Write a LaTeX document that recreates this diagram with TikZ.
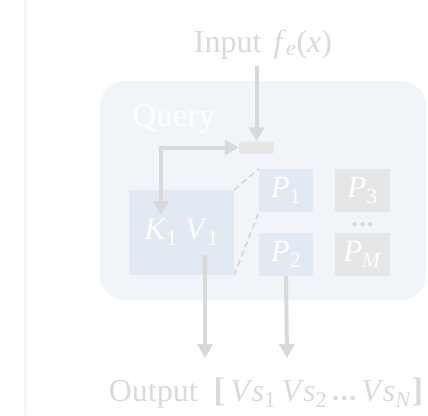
\documentclass[tikz,border=0pt]{standalone}
\usepackage{fontspec}
\setmainfont{Liberation Serif}
\usetikzlibrary{arrows.meta}
\definecolor{txtgray}{HTML}{DADADA}
\definecolor{arrgray}{HTML}{D9D9D9}
\definecolor{qfill}{HTML}{F1F4F9}
\definecolor{bluebox}{HTML}{E1E9F2}
\definecolor{graybox}{HTML}{E5E6E8}
\definecolor{smallbox}{HTML}{E6E6E6}
\definecolor{leftline}{HTML}{F6F6F6}
\newcommand{\isub}[2]{\textit{#1}\textsubscript{#2}}
\begin{document}
\begin{tikzpicture}[x=1pt,y=-1pt,
  arr/.style={draw=arrgray,line width=4pt,-{Triangle[length=14pt,width=15pt]}},
  darr/.style={draw=arrgray,line width=4pt,{Triangle[length=14pt,width=15pt]}-{Triangle[length=14pt,width=15pt]}},
  bbox/.style={fill=bluebox,draw=none,inner sep=0pt,text=white,font=\fontsize{31}{31}\selectfont},
  gbox/.style={fill=graybox,draw=none,inner sep=0pt,text=white,font=\fontsize{31}{31}\selectfont},
  dsh/.style={draw=arrgray!90!gray,line width=1.3pt,dash pattern=on 6pt off 4pt}]
\useasboundingbox (0,0) rectangle (428,415);
\draw[leftline,line width=3pt] (25.5,0) -- (25.5,415);
\node[fill=qfill,rounded corners=25pt,minimum width=326pt,minimum height=219pt,inner sep=0pt] (query) at (263,190.5) {};
\node[text=white,font=\fontsize{33}{33}\selectfont,anchor=base west] (qlabel) at (129,126) {Query};
\node[text=txtgray,font=\fontsize{32}{32}\selectfont,anchor=base] (input) at (263,52) {Input\hspace{12pt}\isub{f}{\textit{e}}(\textit{x})};
\node[fill=smallbox,rounded corners=2pt,minimum width=35pt,minimum height=12pt,inner sep=0pt] (mix) at (256.5,147.5) {};
\node[bbox,minimum width=105pt,minimum height=85pt] (kv) at (181.5,232.5) {\isub{K}{1} \isub{V}{1}};
\node[bbox,minimum width=54pt,minimum height=43pt] (p1) at (286,190.5) {\isub{P}{1}};
\node[bbox,minimum width=54pt,minimum height=43pt] (p2) at (286,254.5) {\isub{P}{2}};
\node[gbox,minimum width=55pt,minimum height=43pt] (p3) at (362.5,190.5) {\isub{P}{3}};
\node[gbox,minimum width=55pt,minimum height=43pt] (pm) at (362.5,254.5) {\isub{P}{\textit{M}}};
\node[text=smallbox!85!gray,font=\fontsize{11}{11}\selectfont] (dots) at (362.5,225) {$\bullet\bullet\bullet$};
\draw[dsh] (kv.north east) -- (p1.north west);
\draw[dsh] (kv.south east) -- (p1.south west);
\coordinate (ins) at (256.5,66);
\draw[arr] (ins) -- (mix.north);
\coordinate (corner) at (161,147.5);
\coordinate (kvtip) at (161,215);
\draw[darr] (mix.west) -- (corner) -- (kvtip);
\coordinate (v1s) at (205,255);
\coordinate (o1) at (205,358);
\coordinate (o2) at (287,358);
\draw[arr] (v1s) -- (o1);
\draw[arr] (p2.south) -- (o2);
\node[text=txtgray,font=\fontsize{32}{32}\selectfont,anchor=base] (output) at (266,401) {Output \ {\fontsize{34}{34}\selectfont\textbf{[}}\,\textit{V}\kern-1pt\isub{s}{1}\,\textit{V}\kern-1pt\isub{s}{2}\,{\fontsize{12}{12}\selectfont$\bullet\bullet\bullet$}\,\textit{V}\kern-1pt\isub{s}{\textit{N}}{\fontsize{34}{34}\selectfont\textbf{]}}};
\end{tikzpicture}
\end{document}
